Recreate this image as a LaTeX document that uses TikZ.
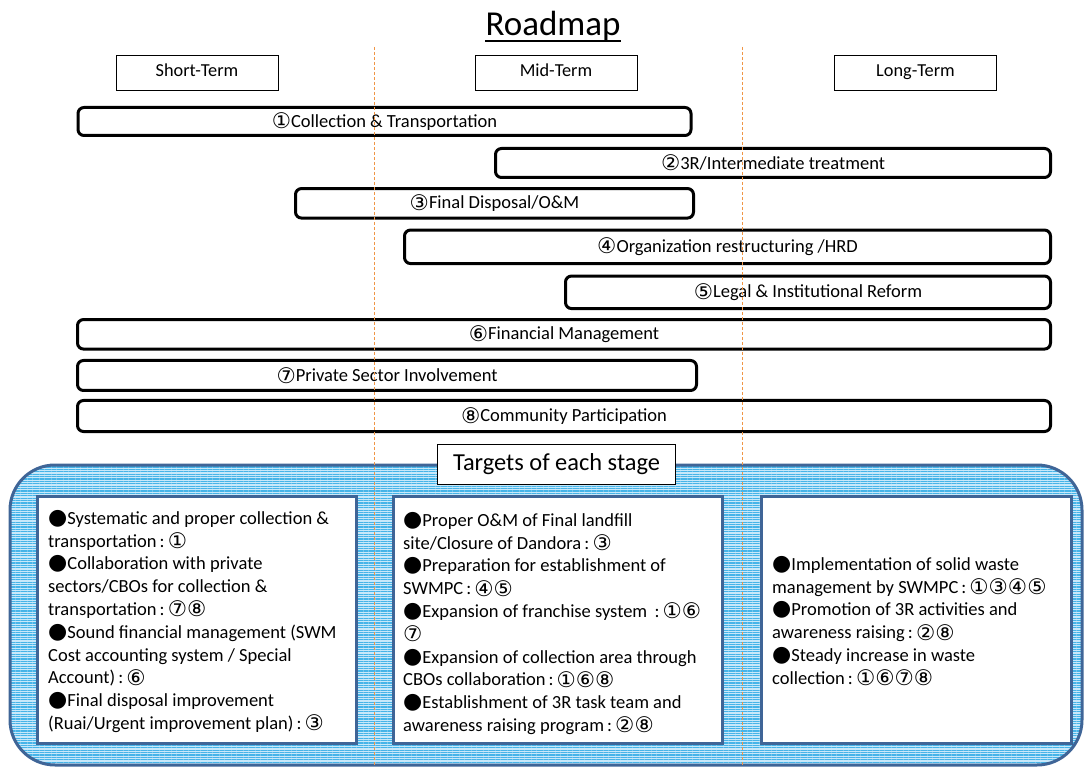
\documentclass[tikz,border=0pt]{standalone}
\usepackage{fontspec}
\setmainfont{Carlito}
\newfontfamily\symfont{DejaVu Sans}
\usetikzlibrary{patterns.meta}
\definecolor{panelblue}{RGB}{63,101,151}
\definecolor{paneltint}{RGB}{200,232,250}
\definecolor{panelline}{RGB}{70,180,232}
\definecolor{periodorange}{RGB}{240,150,70}
% circled numbers and bullets come from DejaVu Sans, set a little larger than the text
\newcommand\cnum[1]{\raisebox{-1.5pt}{\symfont\fontsize{21.5}{21.5}\selectfont #1}}
\newcommand\blt{{\symfont\fontsize{22}{22}\selectfont ●}}
\begin{document}
\begin{tikzpicture}[x=1pt,y=-1pt,
  bar/.style={draw=black,line width=3pt,rounded corners=6pt,fill=white,inner sep=0pt,
    font=\fontsize{18.5}{22}\selectfont},
  term/.style={draw=black,line width=0.9pt,fill=white,minimum width=162pt,
    minimum height=35pt,inner sep=0pt,text height=13pt,text depth=4pt,
    font=\fontsize{18.3}{22}\selectfont},
  period/.style={draw=periodorange,line width=1pt,dash pattern=on 3pt off 2pt},
  target/.style={draw=panelblue,line width=3pt,fill=white,inner sep=0pt},
  body/.style={anchor=north west,align=left,inner sep=0pt,
    font=\fontsize{18.5}{22.8}\selectfont}]

\useasboundingbox (0,0) rectangle (1085,767);

% title
\node[anchor=base,inner sep=0pt,font=\fontsize{35}{40}\selectfont] (title) at (553,36) {Roadmap};
\draw[line width=2pt] ([yshift=-5.5pt]title.base west) -- ([yshift=-5.5pt]title.base east);

% periods
\node[term] (short) at (197,72.5) {Short-Term};
\node[term] (mid) at (556,72.5) {Mid-Term};
\node[term] (long) at (915.5,72.5) {Long-Term};

% action areas
\node[bar,minimum width=613pt,minimum height=28pt] (b1) at (384.5,121.5) {\cnum{①}Collection \& Transportation};
\node[bar,minimum width=555pt,minimum height=29pt] (b2) at (773,163) {\cnum{②}3R/Intermediate treatment};
\node[bar,minimum width=398pt,minimum height=29.5pt] (b3) at (494.5,203.3) {\cnum{③}Final Disposal/O\&M};
\node[bar,minimum width=646pt,minimum height=33.5pt] (b4) at (727.5,246.8) {\cnum{④}Organization restructuring /HRD};
\node[bar,minimum width=485pt,minimum height=32.5pt] (b5) at (808,292.3) {\cnum{⑤}Legal \& Institutional Reform};
\node[bar,minimum width=973pt,minimum height=29.5pt] (b6) at (564,334.3) {\cnum{⑥}Financial Management};
\node[bar,minimum width=619pt,minimum height=30pt] (b7) at (387,375.5) {\cnum{⑦}Private Sector Involvement};
\node[bar,minimum width=973pt,minimum height=31pt] (b8) at (564,416) {\cnum{⑧}Community Participation};

% targets panel
\path[fill=paneltint,rounded corners=45pt] (10,465) rectangle (1082,765);
\path[pattern={Lines[angle=0,distance=2.4pt,line width=1.2pt]},pattern color=panelline,
  rounded corners=45pt] (10,465) rectangle (1082,765);
\draw[draw=panelblue,line width=3pt,rounded corners=45pt] (10,465) rectangle (1082,765);

\node[target,minimum width=319pt,minimum height=247pt] (t1) at (197,620) {};
\node[target,minimum width=329pt,minimum height=247pt] (t2) at (558,620) {};
\node[target,minimum width=310pt,minimum height=247pt] (t3) at (916.5,620) {};

\node[draw=black,line width=1.2pt,fill=white,minimum width=238pt,minimum height=40pt,
  inner sep=0pt,font=\fontsize{24.4}{28}\selectfont] (stage) at (556.5,464.5) {Targets of each stage};

\node[body] (x1) at (48,510) {%
\blt Systematic and proper collection \&\\
transportation\,:\,\cnum{①}\\
\blt Collaboration with private\\
sectors/CBOs for collection \&\\
transportation\,:\,\cnum{⑦⑧}\\
\blt Sound financial management (SWM\\
Cost accounting system / Special\\
Account)\,:\,\cnum{⑥}\\
\blt Final disposal improvement\\
(Ruai/Urgent improvement plan)\,:\,\cnum{③}};

\node[body] (x2) at (403,512) {%
\blt Proper O\&M of Final landfill\\
site/Closure of Dandora\,:\,\cnum{③}\\
\blt Preparation for establishment of\\
SWMPC\,:\,\cnum{④⑤}\\
\blt Expansion of franchise system \,:\,\cnum{①⑥}\\
\cnum{⑦}\\
\blt Expansion of collection area through\\
CBOs collaboration\,:\,\cnum{①⑥⑧}\\
\blt Establishment of 3R task team and\\
awareness raising program\,:\,\cnum{②⑧}};

\node[body] (x3) at (772,556) {%
\blt Implementation of solid waste\\
management by SWMPC\,:\,\cnum{①③④⑤}\\
\blt Promotion of 3R activities and\\
awareness raising\,:\,\cnum{②⑧}\\
\blt Steady increase in waste\\
collection\,:\,\cnum{①⑥⑦⑧}};

% period boundaries
\coordinate (d1top) at (374,47);
\coordinate (d1bot) at (374,767);
\coordinate (d2top) at (742,47);
\coordinate (d2bot) at (742,767);
\draw[period] (d1top) -- (d1bot);
\draw[period] (d2top) -- (d2bot);
\end{tikzpicture}
\end{document}
